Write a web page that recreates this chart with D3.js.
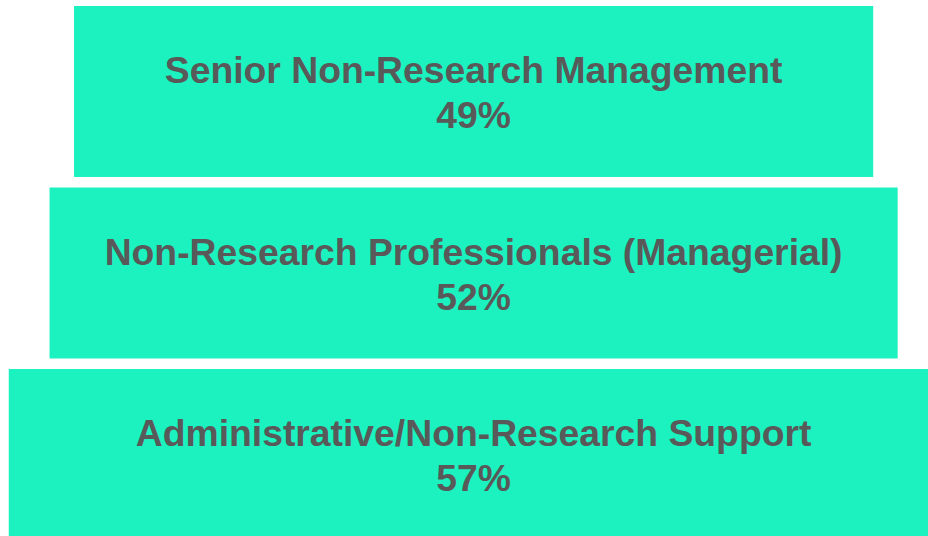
<!DOCTYPE html>
<html>
<head>
<meta charset="utf-8">
<script src="https://cdn.jsdelivr.net/npm/d3@7"></script>
<style>
  body { margin: 0; background: #fff; overflow: hidden; }
  svg { display: block; }
</style>
</head>
<body>
<div id="chart"></div>
<script>
var categories = ["Senior Non-Research Management", "Non-Research Professionals (Managerial)", "Administrative/Non-Research Support"];
var values = [49, 52, 57];
var labels = ["49%", "52%", "57%"];

(function(){
    var width = 928, height = 536;
    var cx = 473.6;

    var svg = d3.select("#chart")
        .append("svg")
        .attr("width", width)
        .attr("height", height);

    // bar width proportional to value, centred like a funnel
    var x = d3.scaleLinear()
        .domain([0, 100])
        .range([0, 1631]);

    var y = d3.scaleBand()
        .domain(categories)
        .range([6, 540])
        .paddingInner(0.058)
        .paddingOuter(0);

    var rows = categories.map(function(c, i){ return {name: c, value: values[i], label: labels[i]}; });

    var g = svg.selectAll(".row")
        .data(rows)
        .enter()
        .append("g")
        .attr("class", "row");

    g.append("rect")
        .attr("x", function(d){ return cx - x(d.value) / 2; })
        .attr("y", function(d){ return y(d.name); })
        .attr("width", function(d){ return x(d.value); })
        .attr("height", y.bandwidth())
        .attr("fill", "#1cf2bf");

    var t = g.append("text")
        .attr("text-anchor", "middle")
        .attr("font-family", "Liberation Sans, Arial, sans-serif")
        .attr("font-weight", "bold")
        .attr("font-size", 37.3)
        .attr("fill", "#595959");

    t.append("tspan")
        .attr("x", cx)
        .attr("y", function(d){ return y(d.name) + 77; })
        .text(function(d){ return d.name; });

    t.append("tspan")
        .attr("x", cx)
        .attr("y", function(d){ return y(d.name) + 122; })
        .text(function(d){ return d.label; });
})();
</script>
</body>
</html>
